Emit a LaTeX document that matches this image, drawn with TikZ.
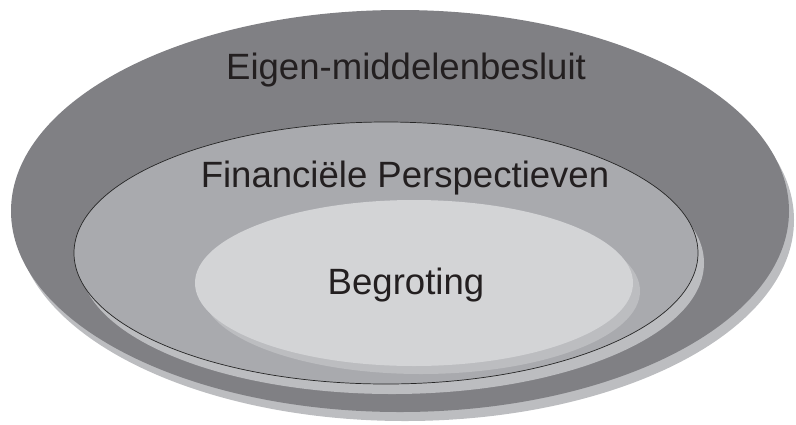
\documentclass[tikz,border=0pt]{standalone}
\usepackage{fontspec}
\setmainfont{Liberation Sans}
\usepackage{tikz}
\usetikzlibrary{calc}

\definecolor{outergrey}{HTML}{808084}
\definecolor{middlegrey}{HTML}{A9AAAE}
\definecolor{innergrey}{HTML}{D3D4D6}
\definecolor{shadowgrey}{HTML}{BCBDC0}
\definecolor{textgrey}{HTML}{231F20}

\tikzset{
	label text/.style={text=textgrey, font=\fontsize{26}{31}\selectfont, inner sep=0pt},
}

\begin{document}
\begin{tikzpicture}[x=0.025cm, y=-0.025cm]
			\useasboundingbox (0, 0) rectangle (796, 424);
			% centres of the ellipses
			\coordinate (O) at (400, 211);
			\coordinate (M) at (386, 253);
			\coordinate (I) at (414, 283);

			% outer ellipse with its shadow
			\fill[shadowgrey] ($ (O) + (5, 9) $) ellipse [x radius=389, y radius=201];
			\fill[outergrey] (O) ellipse [x radius=389, y radius=201];

			% middle ellipse with its shadow
			\fill[shadowgrey] ($ (M) + (6, 10) $) ellipse [x radius=312, y radius=131];
			\fill[middlegrey] (M) ellipse [x radius=312, y radius=131];
			\draw[black!85, line width=0.5pt] (M) ellipse [x radius=312, y radius=131];

			% inner ellipse with its shadow
			\fill[shadowgrey] ($ (I) + (7, 8) $) ellipse [x radius=219, y radius=83];
			\fill[innergrey] (I) ellipse [x radius=219, y radius=83];

			% labels
			\node[label text] (eigen) at (406, 70) {Eigen-middelenbesluit};
			\node[label text] (fin) at (405, 178) {Financiële Perspectieven};
			\node[label text] (begr) at (406, 285) {Begroting};
		\end{tikzpicture}
\end{document}
